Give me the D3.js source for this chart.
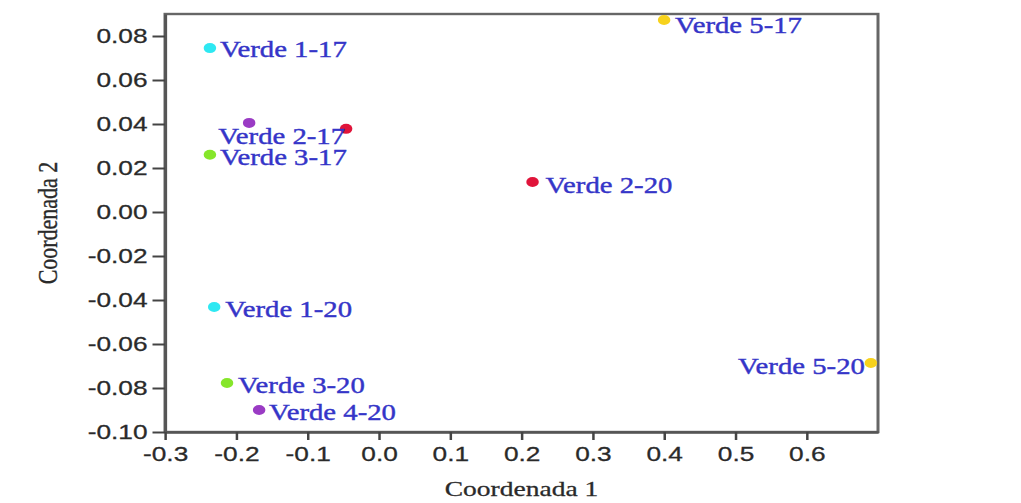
<!DOCTYPE html>
<html>
<head>
<meta charset="utf-8">
<script src="https://cdn.jsdelivr.net/npm/d3@7"></script>
<style>
  body { margin: 0; background: #fff; }
  svg { display: block; }
</style>
</head>
<body>
<div id="chart"></div>
<script>
// point data
const pointLabels = ["Verde 1-17", "", "Verde 2-17", "Verde 3-17", "Verde 5-17",
                     "Verde 2-20", "Verde 1-20", "Verde 3-20", "Verde 4-20", "Verde 5-20"];
const pointGroup  = [1, 4, 2, 3, 5, 2, 1, 3, 4, 5];
const coord1 = [-0.237, -0.182, -0.046, -0.237, 0.400, 0.2155, -0.231, -0.213, -0.168, 0.690];
const coord2 = [0.0745, 0.0405, 0.0378, 0.026, 0.0873, 0.0136, -0.0432, -0.0777, -0.090, -0.0686];

const xTicks = [-0.3, -0.2, -0.1, 0.0, 0.1, 0.2, 0.3, 0.4, 0.5, 0.6];
const yTicks = [-0.10, -0.08, -0.06, -0.04, -0.02, 0.00, 0.02, 0.04, 0.06, 0.08];

const groupColor = { 1: "#2ee8f2", 2: "#e0143a", 3: "#86e62a", 4: "#9a3bc4", 5: "#f7d21c" };

// label placement (page px): dx, dy, anchor
const labelPlace = [
  [10, 9, "start"], null, [-1, 15, "end"], [10, 10, "start"], [11, 13, "start"],
  [13, 11, "start"], [11, 10, "start"], [11, 10, "start"], [10, 10, "start"], [-6, 11, "end"]
];

const W = 1021, H = 503;
const sx = 1.25;            // the reference is stretched horizontally
const iw = W / sx;

const svg = d3.select("#chart").append("svg")
  .attr("width", W)
  .attr("height", H)
  .attr("viewBox", `0 0 ${iw} ${H}`)
  .attr("preserveAspectRatio", "none");

const mLeft = 165 / sx, mRight = 878 / sx, mTop = 14, mBottom = 432;

const x = d3.scaleLinear().domain([-0.3, 0.7]).range([mLeft, mRight]);
const y = d3.scaleLinear().domain([-0.10, 0.09]).range([mBottom, mTop]);

// frame
svg.append("rect")
  .attr("x", mLeft).attr("y", mTop)
  .attr("width", mRight - mLeft).attr("height", mBottom - mTop)
  .attr("fill", "none")
  .attr("stroke", "#666")
  .attr("stroke-width", 2.4);

const yAxis = svg.append("g")
  .attr("transform", `translate(${mLeft},0)`)
  .call(d3.axisLeft(y).tickValues(yTicks).tickSize(10).tickSizeOuter(0).tickPadding(4)
    .tickFormat(d => d.toFixed(2)));

const xAxis = svg.append("g")
  .attr("transform", `translate(0,${mBottom})`)
  .call(d3.axisBottom(x).tickValues(xTicks).tickSize(8).tickSizeOuter(0).tickPadding(6)
    .tickFormat(d => d.toFixed(1)));

[xAxis, yAxis].forEach(a => {
  a.select(".domain").attr("stroke", "#555").attr("stroke-width", 2.4);
  a.selectAll(".tick line").attr("stroke", "#444").attr("stroke-width", 2);
  a.selectAll(".tick text")
    .attr("font-family", "Liberation Sans, Arial, sans-serif")
    .attr("font-size", 21)
    .attr("fill", "#2a2a2a")
    .attr("stroke", "#2a2a2a")
    .attr("stroke-width", 0.3);
});

// axis titles
svg.append("text")
  .attr("x", (mLeft + mRight) / 2)
  .attr("y", 496)
  .attr("text-anchor", "middle")
  .attr("font-family", "Liberation Serif, Times New Roman, serif")
  .attr("font-size", 22)
  .attr("fill", "#2a2a2a")
  .attr("stroke", "#2a2a2a")
  .attr("stroke-width", 0.3)
  .text("Coordenada 1");

svg.append("text")
  .attr("transform", `translate(${57 / sx},${(mTop + mBottom) / 2}) rotate(-90)`)
  .attr("text-anchor", "middle")
  .attr("font-family", "Liberation Serif, Times New Roman, serif")
  .attr("font-size", 22)
  .attr("fill", "#2a2a2a")
  .attr("stroke", "#2a2a2a")
  .attr("stroke-width", 0.3)
  .text("Coordenada 2");

const pts = pointLabels.map((lab, i) => ({ lab, g: pointGroup[i], c1: coord1[i], c2: coord2[i], p: labelPlace[i] }));

svg.selectAll(".dot")
  .data(pts)
  .enter()
  .append("circle")
  .attr("class", "dot")
  .attr("cx", d => x(d.c1))
  .attr("cy", d => y(d.c2))
  .attr("r", 5)
  .attr("fill", d => groupColor[d.g]);

svg.selectAll(".lab")
  .data(pts.filter(d => d.lab))
  .enter()
  .append("text")
  .attr("class", "lab")
  .attr("x", d => x(d.c1) + d.p[0] / sx)
  .attr("y", d => y(d.c2) + d.p[1])
  .attr("text-anchor", d => d.p[2])
  .attr("font-family", "Liberation Serif, Times New Roman, serif")
  .attr("font-size", 23)
  .attr("fill", "#3535c8")
  .attr("stroke", "#3535c8")
  .attr("stroke-width", 0.4)
  .text(d => d.lab);
</script>
</body>
</html>
